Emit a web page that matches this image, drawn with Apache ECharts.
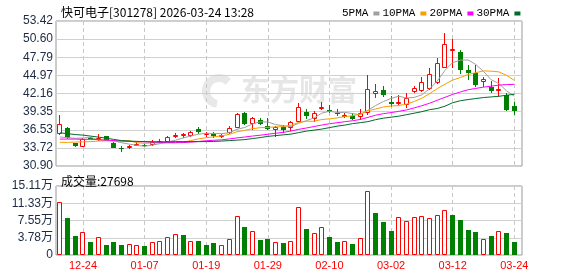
<!DOCTYPE html>
<html>
<head>
<meta charset="utf-8">
<script src="https://cdn.jsdelivr.net/npm/echarts@6/dist/echarts.min.js"></script>
<style>
  html, body { margin: 0; padding: 0; background: #fff; }
  #chart { width: 578px; height: 276px; }
</style>
</head>
<body>
<div id="chart"></div>
<script>
// trading days shown on the chart (2025-12-19 .. 2026-03-24)
const dates = ['12-19','12-22','12-23','12-24','12-25','12-26','12-29','12-30','12-31',
  '01-05','01-06','01-07','01-08','01-09','01-12','01-13','01-14','01-15','01-16','01-19',
  '01-20','01-21','01-22','01-23','01-26','01-27','01-28','01-29','01-30','02-02','02-03',
  '02-04','02-05','02-06','02-09','02-10','02-11','02-12','02-13','02-24','02-25','02-26',
  '02-27','03-02','03-03','03-04','03-05','03-06','03-09','03-10','03-11','03-12','03-13',
  '03-16','03-17','03-18','03-19','03-20','03-23','03-24'];

const opens = [35.81,36.83,34.41,33.89,35.30,34.97,35.54,34.51,33.69,33.64,34.04,34.22,34.15,34.57,34.66,
  35.39,35.54,35.54,36.67,35.74,35.81,35.43,36.00,36.86,39.15,37.35,38.10,37.14,36.43,36.94,
  36.73,37.76,39.30,38.13,39.83,39.57,39.15,38.53,38.68,38.44,39.06,42.15,42.66,40.85,40.60,
  40.39,42.46,42.55,42.82,43.75,46.18,48.81,48.54,45.80,45.29,44.01,43.24,42.55,41.94,40.24];
const closes = [37.35,35.19,34.04,35.08,35.15,35.28,34.82,33.73,33.61,34.04,34.30,34.10,34.66,34.77,35.34,
  35.65,35.81,36.21,36.21,35.96,35.59,35.70,36.83,38.90,37.40,38.33,37.40,36.63,36.94,36.43,
  37.71,39.99,38.64,39.06,40.08,39.30,38.90,38.79,38.13,39.06,42.93,42.55,41.89,40.50,40.85,
  41.53,42.97,43.90,45.14,46.95,49.78,49.01,45.80,45.29,43.48,44.37,42.55,42.82,39.61,39.37];
const lows = [35.70,35.03,33.89,33.79,35.05,34.77,34.77,33.69,33.02,33.48,33.99,33.85,34.07,34.46,34.61,
  35.23,35.19,35.46,35.81,35.43,35.23,35.19,35.81,36.78,37.25,36.47,37.25,36.47,35.43,36.08,
  36.36,37.71,38.13,37.76,39.57,39.06,38.68,38.28,38.02,38.02,38.79,41.53,41.63,40.08,40.34,
  39.88,42.20,42.35,42.71,43.59,46.07,46.18,45.14,44.26,43.24,43.24,42.20,41.69,39.37,38.75];
const highs = [38.79,36.94,34.50,35.28,35.40,35.81,35.62,34.57,34.00,34.10,34.61,34.35,34.92,35.03,35.54,
  35.96,36.05,36.36,36.98,36.21,36.16,35.90,37.14,39.06,39.30,38.53,38.28,38.28,37.14,37.32,
  37.87,40.70,39.83,39.41,40.85,40.34,39.83,39.06,39.06,39.83,44.98,43.59,43.28,41.78,41.89,
  42.20,43.39,44.78,46.07,47.62,51.49,50.56,48.90,46.58,46.58,44.78,44.10,44.52,42.31,40.81];

const ma5 = [35.40,35.30,35.20,35.25,35.36,34.95,34.87,34.81,34.52,34.30,34.10,33.96,34.14,34.37,34.63,
  34.90,35.25,35.56,35.84,35.97,35.96,35.93,36.06,36.60,36.88,37.43,37.77,37.73,37.34,37.15,
  37.02,37.54,37.94,38.37,39.10,39.41,39.20,39.23,39.04,38.84,39.56,40.29,40.91,41.39,41.74,
  41.46,41.55,41.95,42.88,44.10,45.75,46.96,47.34,47.37,46.67,45.59,44.30,43.70,42.57,41.74];
const ma10 = [34.57,34.57,34.61,34.66,34.69,34.77,34.82,34.82,34.80,34.83,34.52,34.42,34.48,34.45,34.47,
  34.50,34.60,34.85,35.11,35.30,35.43,35.59,35.81,36.22,36.43,36.69,36.85,36.90,36.97,37.02,
  37.23,37.66,37.84,37.85,38.12,38.22,38.37,38.58,38.70,38.97,39.49,39.74,40.07,40.21,40.29,
  40.51,40.92,41.43,42.13,42.92,43.61,44.25,44.64,45.12,45.39,45.67,45.63,45.52,44.97,44.21];
const ma20 = [35.08,35.08,35.08,35.05,35.03,35.00,34.92,34.85,34.77,34.72,34.69,34.66,34.61,34.57,34.54,
  34.54,34.54,34.60,34.70,34.82,34.90,34.96,35.11,35.26,35.40,35.55,35.68,35.83,35.99,36.12,
  36.33,36.59,36.80,37.03,37.26,37.46,37.62,37.78,37.93,38.12,38.45,38.79,39.03,39.19,39.39,
  39.60,39.92,40.26,40.65,41.11,41.57,42.02,42.40,42.74,42.95,43.15,43.30,43.46,43.55,43.58];
const ma30 = [36.05,35.93,35.78,35.70,35.54,35.39,35.23,35.03,34.85,34.77,34.72,34.69,34.66,34.66,34.66,
  34.69,34.69,34.69,34.69,34.69,34.72,34.77,34.85,34.92,35.00,35.16,35.31,35.50,35.62,35.74,
  35.85,36.08,36.32,36.47,36.63,36.86,37.09,37.25,37.48,37.63,37.79,38.10,38.33,38.48,38.64,
  38.87,39.10,39.34,39.65,39.83,40.19,40.73,41.04,41.22,41.38,41.53,41.63,41.73,41.89,42.04];

const vols = [116700,80300,41600,49600,28500,40100,21900,28500,21900,23400,21200,19700,27700,30700,38700,
  45300,43100,30700,30700,21900,26300,21200,34300,84700,61300,51800,32900,35000,28500,26300,
  30700,104400,56900,47500,60600,39400,29200,30700,24100,36500,140200,92000,72300,52600,82500,
  74500,82500,84700,80300,87600,97800,87600,76700,54800,50400,34300,41600,51800,48900,27698];
// 1 = red (hollow) bar, 0 = green bar
const volUp = [1,0,0,1,0,1,0,0,0,1,1,0,1,1,1,1,0,1,0,0,0,1,1,1,0,1,0,0,1,0,
  1,1,0,1,1,0,0,1,0,1,1,0,0,0,1,1,1,1,1,1,1,0,0,0,0,1,0,1,0,0];

const priceTicks = ['30.90','33.72','36.53','39.35','42.16','44.97','47.79','50.60','53.42'];
const volTicks = ['0','3.78万','7.55万','11.33万','15.11万'];
const dateTicks = [3, 11, 19, 27, 35, 43, 51, 59];

const RED = '#ff0000';
const GREEN = '#008000';
const labelFont = 'Liberation Sans, Arial, sans-serif';

let chart = echarts.init(document.getElementById('chart'), null, { renderer: 'canvas' });

// snap a mark to whole pixels so 1px outlines stay crisp
function renderCandle(params, api) {
    let i = api.value(0);
    let o = api.value(1), c = api.value(2), l = api.value(3), h = api.value(4);
    let pO = api.coord([i, o]);
    let pC = api.coord([i, c]);
    let yLow = Math.round(api.coord([i, l])[1]);
    let yHigh = Math.round(api.coord([i, h])[1]);
    let col = Math.floor(pO[0]);
    let yTop = Math.round(Math.min(pO[1], pC[1]));
    let yBot = Math.round(Math.max(pO[1], pC[1]));
    if (yBot - yTop < 1) yBot = yTop + 1;
    let children = [];
    if (c >= o) {
        children.push({ type: 'line', shape: { x1: col + 0.5, y1: yHigh, x2: col + 0.5, y2: yTop },
            style: { stroke: RED, lineWidth: 1 } });
        children.push({ type: 'line', shape: { x1: col + 0.5, y1: yBot, x2: col + 0.5, y2: yLow },
            style: { stroke: RED, lineWidth: 1 } });
        children.push({ type: 'rect', shape: { x: col - 1.5, y: yTop + 0.5, width: 4, height: Math.max(yBot - yTop - 1, 0) },
            style: { fill: '#fff', stroke: RED, lineWidth: 1 } });
    } else {
        children.push({ type: 'line', shape: { x1: col + 0.5, y1: yHigh, x2: col + 0.5, y2: yLow },
            style: { stroke: GREEN, lineWidth: 1 } });
        children.push({ type: 'rect', shape: { x: col - 2, y: yTop, width: 5, height: yBot - yTop },
            style: { fill: GREEN } });
    }
    return { type: 'group', children: children };
}

function renderVolume(params, api) {
    let i = api.value(0);
    let p = api.coord([i, api.value(1)]);
    let p0 = api.coord([i, 0]);
    let col = Math.floor(p[0]);
    let yTop = Math.round(p[1]);
    let yBot = Math.round(p0[1]);
    if (api.value(2)) {
        return { type: 'rect', shape: { x: col - 1.5, y: yTop + 0.5, width: 4, height: Math.max(yBot - yTop - 1, 0) },
            style: { fill: '#fff', stroke: RED, lineWidth: 1 } };
    }
    return { type: 'rect', shape: { x: col - 2, y: yTop, width: 5, height: yBot - yTop },
        style: { fill: GREEN } };
}

function xAxisFor(gridIndex, withLabels) {
    return {
        type: 'value',
        gridIndex: gridIndex,
        min: -0.5,
        max: 60,
        axisLine: { show: false },
        axisTick: { show: false, customValues: dateTicks },
        splitLine: { show: true, lineStyle: { color: '#c8c8c8', type: [4, 3], width: 1 } },
        axisLabel: {
            show: withLabels,
            customValues: dateTicks,
            formatter: v => dates[v],
            color: RED,
            fontSize: 11,
            fontFamily: labelFont,
            margin: 5
        }
    };
}

function lineSeries(name, data, color) {
    return {
        name: name,
        type: 'line',
        xAxisIndex: 0,
        yAxisIndex: 0,
        data: data.map((v, i) => [i, v]),
        symbol: 'none',
        lineStyle: { color: color, width: 1 },
        itemStyle: { color: color },
        z: 3
    };
}

let option = {
    animation: false,
    backgroundColor: '#fff',
    title: [
        {
            text: '快可电子[301278] 2026-03-24 13:28',
            left: 56, top: 1,
            textStyle: { fontSize: 12, fontWeight: 'normal', color: '#000', fontFamily: 'Noto Sans CJK SC' }
        },
        {
            text: '成交量:27698',
            left: 56, top: 170,
            textStyle: { fontSize: 12, fontWeight: 'normal', color: '#000', fontFamily: 'Noto Sans CJK SC' }
        }
    ],
    legend: {
        data: ['5PMA', '10PMA', '20PMA', '30PMA'],
        left: 337, top: 3,
        align: 'right',
        icon: 'rect',
        itemWidth: 6, itemHeight: 4,
        itemGap: 3,
        selectedMode: false,
        textStyle: { fontSize: 11, color: '#000', fontFamily: 'Liberation Mono, monospace' }
    },
    graphic: [
        {
            type: 'arc',
            z: -10,
            silent: true,
            shape: { cx: 219, cy: 91, r: 13, startAngle: Math.PI * 0.55, endAngle: Math.PI * 1.75 },
            style: { stroke: '#e8e8e8', lineWidth: 8, fill: null }
        },
        {
            type: 'text',
            left: 241, top: 75,
            z: -10,
            silent: true,
            style: {
                text: '东方财富',
                font: 'bold 29px "Noto Sans CJK SC"',
                fill: '#e6e6e6'
            }
        }
    ],
    grid: [
        { left: 56, right: 56, top: 21, height: 145, show: true, borderColor: '#999', borderWidth: 1, outerBoundsMode: 'none' },
        { left: 56, right: 56, top: 186, height: 69, show: true, borderColor: '#999', borderWidth: 1, outerBoundsMode: 'none' }
    ],
    xAxis: [xAxisFor(0, false), xAxisFor(1, true)],
    yAxis: [
        {
            type: 'value', gridIndex: 0,
            min: 30.90, max: 53.42, interval: 2.815,
            axisLine: { show: false }, axisTick: { show: false },
            splitLine: { lineStyle: { color: '#d0d0d0', width: 1 } },
            axisLabel: {
                formatter: v => priceTicks[Math.round((v - 30.90) / 2.815)],
                color: '#1c2a44', fontSize: 12, fontFamily: labelFont, margin: 3
            }
        },
        {
            type: 'value', gridIndex: 1,
            min: 0, max: 151100, interval: 37775,
            axisLine: { show: false }, axisTick: { show: false },
            splitLine: { lineStyle: { color: '#d0d0d0', width: 1 } },
            axisLabel: {
                formatter: v => volTicks[Math.round(v / 37775)],
                color: '#1c2a44', fontSize: 12, fontFamily: labelFont + ', Noto Sans CJK SC', margin: 3
            }
        }
    ],
    series: [
        {
            name: 'K',
            type: 'custom',
            xAxisIndex: 0,
            yAxisIndex: 0,
            renderItem: renderCandle,
            encode: { x: 0, y: [1, 2, 3, 4] },
            data: dates.map((d, i) => [i, opens[i], closes[i], lows[i], highs[i]]),
            z: 2
        },
        lineSeries('5PMA', ma5, '#a0a0a0'),
        lineSeries('10PMA', ma10, '#f5a000'),
        lineSeries('20PMA', ma20, '#ff00ff'),
        lineSeries('30PMA', ma30, '#006b2b'),
        {
            name: 'VOL',
            type: 'custom',
            xAxisIndex: 1,
            yAxisIndex: 1,
            renderItem: renderVolume,
            encode: { x: 0, y: 1 },
            data: vols.map((v, i) => [i, v, volUp[i]])
        }
    ]
};

chart.setOption(option);
</script>
</body>
</html>
